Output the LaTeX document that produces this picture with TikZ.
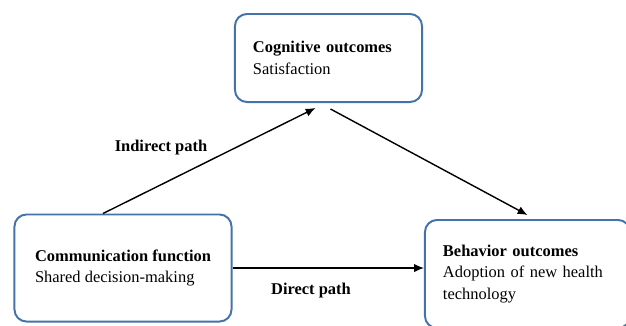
\documentclass[tikz,border=0pt]{standalone}
\usepackage{fontspec}
\setmainfont{Liberation Serif}
\usetikzlibrary{arrows.meta,calc}
\definecolor{boxblue}{RGB}{68,114,170}
\begin{document}
\begin{tikzpicture}[x=0.025cm,y=-0.025cm,
		outcome/.style={draw=boxblue,line width=1.4pt,rounded corners=0.3cm,align=left,
			inner xsep=0.45cm,font=\fontsize{11.7pt}{15.5pt}\selectfont},
		pathlabel/.style={font=\fontsize{11.7pt}{14pt}\selectfont\bfseries},
		effect/.style={line width=1pt,-{Latex[length=7pt,width=6pt]}}]
			\useasboundingbox (0,0) rectangle (626,325);
			\clip (0,0) rectangle (626,325);
			
			\node[outcome,minimum width=5.425cm,minimum height=2.675cm] (comm) at (123,268) {\textbf{Communication function}\\Shared decision-making};
			\node[outcome,minimum width=4.675cm,minimum height=2.2cm,text width=3.775cm] (cog) at (328.5,58) {\textbf{Cognitive outcomes}\\Satisfaction};
			\node[outcome,minimum width=5.125cm,minimum height=2.7cm,text width=4.225cm] (beh) at (527.5,274) {\textbf{Behavior outcomes}\\Adoption of new health\\technology};
			
			\node[pathlabel] (ind) at (161,148) {Indirect path};
			\node[pathlabel] (dir) at (311,291) {Direct path};
			
			\draw[effect] ($(comm.north)+(-20,0)$) -- ($(cog.south)+(-13,5)$);
			\draw[effect] ($(cog.south)+(2,6)$) -- ($(beh.north)+(0,-4)$);
			\draw[effect] (comm.east) -- (comm.east -| beh.west);
		\end{tikzpicture}
\end{document}
